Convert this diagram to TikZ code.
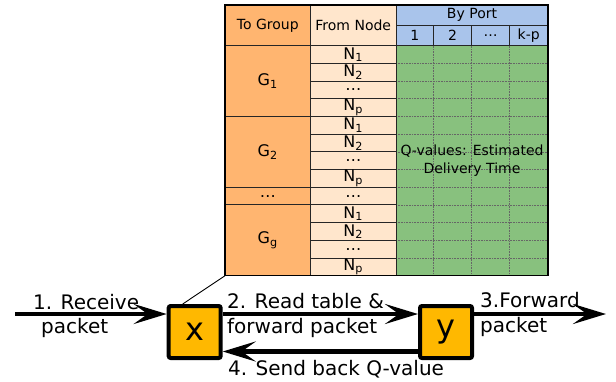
\documentclass[tikz,border=0pt]{standalone}
\usepackage{fontspec}
\setmainfont{DejaVu Sans}
\usetikzlibrary{arrows.meta}
\definecolor{grp}{HTML}{FFB570}
\definecolor{frm}{HTML}{FFE6CC}
\definecolor{prt}{HTML}{A9C4EB}
\definecolor{qv}{HTML}{88C17E}
\definecolor{boxc}{HTML}{FFB800}
\tikzset{
  cell/.style={font=\fontsize{16}{18}\selectfont, inner sep=0pt},
  hdr/.style={font=\fontsize{14}{16}\selectfont, inner sep=0pt},
  lbl/.style={font=\fontsize{20}{22}\selectfont, inner sep=0pt, anchor=base west},
  pbox/.style={draw=black, line width=4pt, fill=boxc, rounded corners=2pt, minimum size=52pt, inner sep=0pt, font=\fontsize{32}{34}\selectfont},
  arr/.style={line width=4.5pt, -{Stealth[length=33pt,width=20pt,inset=14pt]}},
  grid/.style={densely dotted, draw=black!60, line width=0.6pt},
  rowline/.style={draw=black!85, line width=1pt}
}
\begin{document}
\begin{tikzpicture}[x=1pt,y=-1pt]
\useasboundingbox (0,0) rectangle (616,381);
% table geometry
\def\ta{225}\def\tb{310.5}\def\tc{396}\def\td{548}
\def\ttop{5}\def\thm{25.5}\def\thb{45.7}\def\tbot{275.7}
\def\rh{17.692}
% fills
\fill[grp] (\ta,\ttop) rectangle (\tb,\tbot);
\fill[frm] (\tb,\ttop) rectangle (\tc,\tbot);
\fill[prt] (\tc,\ttop) rectangle (\td,\thb);
\fill[qv] (\tc,\thb) rectangle (\td,\tbot);
% dotted grid in Q area
\foreach \xx in {433.5,471.5,509.5} \draw[grid] (\xx,\thb) -- (\xx,\tbot);
\foreach \i in {1,...,12} \draw[grid] (\tc,\thb+\i*\rh) -- (\td,\thb+\i*\rh);
% row lines in from-node column
\foreach \i in {1,...,12} \draw[rowline] (\tb,\thb+\i*\rh) -- (\tc,\thb+\i*\rh);
% group lines
\foreach \i in {4,8,9} \draw[rowline] (\ta,\thb+\i*\rh) -- (\tb,\thb+\i*\rh);
% header lines
\draw[rowline] (\ta,\thb) -- (\td,\thb);
\draw[rowline] (\tc,\thm) -- (\td,\thm);
\foreach \xx in {433.5,471.5,509.5} \draw[rowline] (\xx,\thm) -- (\xx,\thb);
\draw[rowline] (\tb,\ttop) -- (\tb,\tbot);
\draw[rowline] (\tc,\ttop) -- (\tc,\tbot);
\draw[black, line width=1.2pt] (\ta,\ttop) rectangle (\td,\tbot);
\coordinate (tbl) at (\ta,\tbot);
% header texts
\node[hdr] (htg) at (267.75,25.3) {To Group};
\node[hdr] (hfn) at (353.25,25.3) {From Node};
\node[hdr] (hbp) at (472,15.2) {By Port};
\node[hdr] (hp1) at (414.75,35.6) {1};
\node[hdr] (hp2) at (452.5,35.6) {2};
\node[hdr] (hp3) at (490.5,35.6) {…};
\node[hdr] (hp4) at (528.75,35.6) {k-p};
% group labels
\node[cell] (g1) at (267.75,\thb+2*\rh) {G\textsubscript{1}};
\node[cell] (g2) at (267.75,\thb+6*\rh) {G\textsubscript{2}};
\node[cell] (g3) at (267.75,\thb+8.5*\rh) {…};
\node[cell] (g4) at (267.75,\thb+11*\rh) {G\textsubscript{g}};
% from-node labels
\foreach \i/\t in {0/N\textsubscript{1},1/N\textsubscript{2},2/…,3/N\textsubscript{p},
                   4/N\textsubscript{1},5/N\textsubscript{2},6/…,7/N\textsubscript{p},
                   8/…,
                   9/N\textsubscript{1},10/N\textsubscript{2},11/…,12/N\textsubscript{p}}
  \node[cell] (n\i) at (353.25,\thb+\i*\rh+0.5*\rh) {\t};
% Q text
\node[hdr, align=center, font=\fontsize{14}{18}\selectfont] (qtxt) at (472,160.7) {Q-values: Estimated\\Delivery Time};
% boxes
\node[pbox] (x) at (194.7,332) {x};
\node[pbox] (y) at (446,332) {y};
% arrows
\coordinate (in) at (15,314);
\coordinate (out) at (606,314);
\draw[arr] (in) -- (in -| x.west);
\draw[arr] ([yshift=18pt]x.east) -- ([yshift=18pt]y.west);
\draw[arr] (out -| y.east) -- (out);
\draw[arr] ([yshift=-19.5pt]y.west) -- ([yshift=-19.5pt]x.east);
\draw[line width=0.9pt] ([xshift=-12pt]x.north) -- (tbl);
% labels
\node[lbl] (l1a) at (33,309) {1. Receive};
\node[lbl] (l1b) at (41,333) {packet};
\node[lbl] (l2a) at (227,308) {2. Read table \&};
\node[lbl] (l2b) at (227,333) {forward packet};
\node[lbl] (l3a) at (480,307) {3.Forward};
\node[lbl] (l3b) at (480,332) {packet};
\node[lbl] (l4) at (228,375) {4. Send back Q-value};
\end{tikzpicture}
\end{document}
